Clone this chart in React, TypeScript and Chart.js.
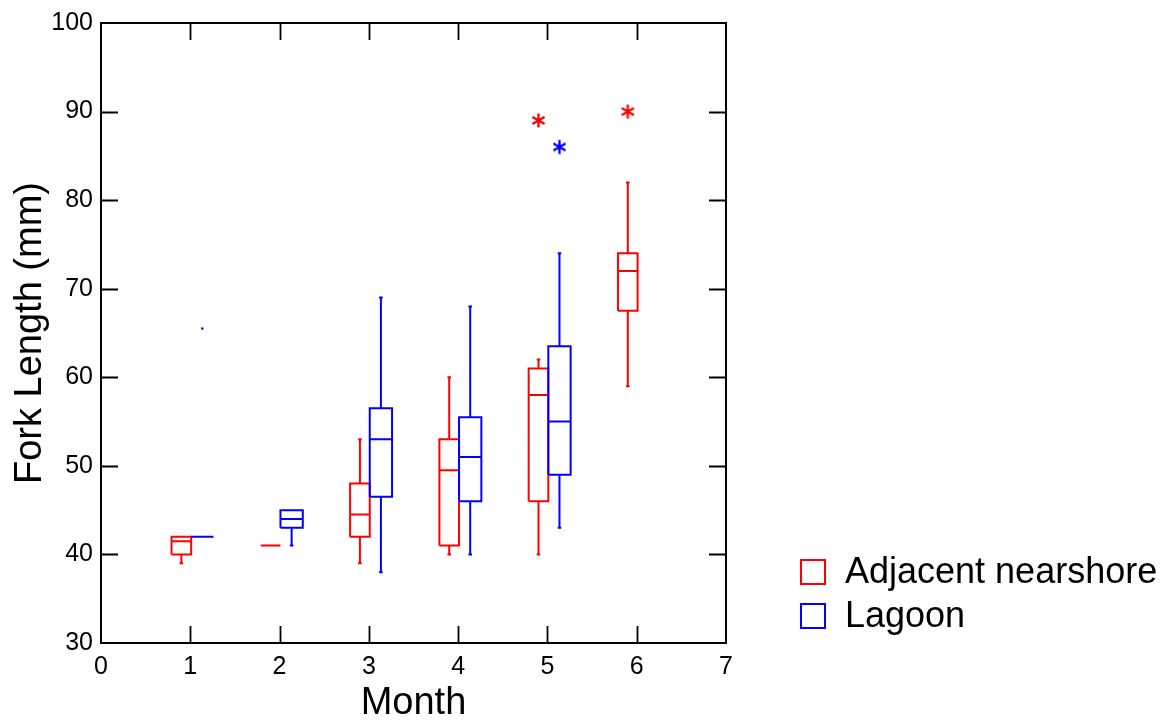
import React, { useEffect, useRef } from 'react';
import { Chart, registerables } from 'chart.js';

Chart.register(...registerables);

// ---------- data ----------
const months = [1, 2, 3, 4, 5, 6];
const xTickValues = [0, 1, 2, 3, 4, 5, 6, 7];
const yTickValues = [30, 40, 50, 60, 70, 80, 90, 100];

const seriesNames = ['Adjacent nearshore', 'Lagoon'];
const seriesColors = ['#ff0000', '#0000ff'];

// Adjacent nearshore five-number summaries per month
const nearshoreMin = [39, 41, 39, 40, 40, 59];
const nearshoreQ1 = [40, 41, 42, 41, 46, 67.5];
const nearshoreMedian = [41.5, 41, 44.5, 49.5, 58, 72];
const nearshoreQ3 = [42, 41, 48, 53, 61, 74];
const nearshoreMax = [42, 41, 53, 60, 62, 82];
const nearshoreStarMonth = [5, 6];
const nearshoreStarValue = [89, 90];

// Lagoon five-number summaries per month (no sample in month 6)
const lagoonMin = [42, 41, 38, 40, 43, null];
const lagoonQ1 = [42, 43, 46.5, 46, 49, null];
const lagoonMedian = [42, 44, 53, 51, 55, null];
const lagoonQ3 = [42, 45, 56.5, 55.5, 63.5, null];
const lagoonMax = [42, 45, 69, 68, 74, null];
const lagoonStarMonth = [5];
const lagoonStarValue = [86];
const lagoonDotMonth = [1];
const lagoonDotValue = [65.5];

// ---------- helpers ----------
type Pt = { x: number; y: number | null };

function boxSegments(
  mins: (number | null)[],
  q1s: (number | null)[],
  meds: (number | null)[],
  q3s: (number | null)[],
  maxs: (number | null)[],
  offset: number,
  halfWidth: number,
  capHalf: number
): Pt[] {
  const pts: Pt[] = [];
  const gap = (x: number) => pts.push({ x, y: null });
  months.forEach((m, i) => {
    const med = meds[i];
    if (med == null) return;
    const q1 = q1s[i] as number;
    const q3 = q3s[i] as number;
    const mn = mins[i] as number;
    const mx = maxs[i] as number;
    const c = m + offset;
    const l = c - halfWidth;
    const r = c + halfWidth;
    if (q3 > q1) {
      pts.push({ x: l, y: q1 }, { x: r, y: q1 }, { x: r, y: q3 }, { x: l, y: q3 }, { x: l, y: q1 });
      gap(l);
    }
    pts.push({ x: l, y: med }, { x: r, y: med });
    gap(r);
    if (mx > q3) {
      pts.push({ x: c, y: q3 }, { x: c, y: mx });
      gap(c);
      pts.push({ x: c - capHalf, y: mx }, { x: c + capHalf, y: mx });
      gap(c);
    }
    if (mn < q1) {
      pts.push({ x: c, y: q1 }, { x: c, y: mn });
      gap(c);
      pts.push({ x: c - capHalf, y: mn }, { x: c + capHalf, y: mn });
      gap(c);
    }
  });
  return pts;
}

function makeAsterisk(color: string, size = 17): HTMLCanvasElement {
  const c = document.createElement('canvas');
  c.width = size;
  c.height = size;
  const ctx = c.getContext('2d')!;
  ctx.strokeStyle = color;
  ctx.lineWidth = 2.3;
  const r = size / 2 - 1.5;
  const cx = size / 2;
  const cy = size / 2;
  ctx.beginPath();
  for (const a of [90, 30, 150]) {
    const rad = (a * Math.PI) / 180;
    ctx.moveTo(cx - r * Math.cos(rad), cy - r * Math.sin(rad));
    ctx.lineTo(cx + r * Math.cos(rad), cy + r * Math.sin(rad));
  }
  ctx.stroke();
  return c;
}

const FONT = '"Liberation Sans", Arial, Helvetica, sans-serif';

const framePlugin = {
  id: 'frameTicks',
  afterDatasetsDraw(chart: any) {
    const { ctx, chartArea } = chart;
    const { left, right, top, bottom } = chartArea;
    const xs = chart.scales.x;
    const ys = chart.scales.y;
    const len = 17;
    ctx.save();
    ctx.strokeStyle = '#000';
    ctx.lineWidth = 1.8;
    ctx.beginPath();
    xTickValues.forEach((v) => {
      if (v === xs.min || v === xs.max) return;
      const px = Math.round(xs.getPixelForValue(v)) + 0.5;
      ctx.moveTo(px, bottom);
      ctx.lineTo(px, bottom - len);
      ctx.moveTo(px, top);
      ctx.lineTo(px, top + len);
    });
    yTickValues.forEach((v) => {
      if (v === ys.min || v === ys.max) return;
      const py = Math.round(ys.getPixelForValue(v)) + 0.5;
      ctx.moveTo(left, py);
      ctx.lineTo(left + len, py);
      ctx.moveTo(right, py);
      ctx.lineTo(right - len, py);
    });
    ctx.stroke();
    ctx.lineWidth = 2;
    ctx.strokeRect(left, top, right - left, bottom - top);
    ctx.restore();
  },
};

const legendPlugin = {
  id: 'sideLegend',
  afterDraw(chart: any) {
    const { ctx } = chart;
    ctx.save();
    ctx.font = `36px ${FONT}`;
    ctx.textBaseline = 'middle';
    ctx.textAlign = 'left';
    seriesNames.forEach((name, i) => {
      const y0 = 560 + i * 44;
      ctx.strokeStyle = seriesColors[i];
      ctx.lineWidth = 2;
      ctx.strokeRect(801, y0, 24, 24);
      ctx.fillStyle = '#000';
      ctx.fillText(name, 845, y0 + 13);
    });
    ctx.restore();
  },
};

export default function App() {
  const ref = useRef<HTMLCanvasElement | null>(null);

  useEffect(() => {
    if (!ref.current) return;
    Chart.defaults.font.family = FONT;
    Chart.defaults.color = '#000';

    const redStar = makeAsterisk(seriesColors[0]);
    const blueStar = makeAsterisk(seriesColors[1]);

    const redOffset = -0.1;
    const redHalf = 0.11;
    const blueOffset = 0.135;
    const blueHalf = 0.125;
    const capHalf = 0.02;

    const lineDs = (label: string, data: Pt[], color: string, order: number) => ({
      label,
      data,
      showLine: true,
      spanGaps: false,
      borderColor: color,
      backgroundColor: color,
      borderWidth: 2,
      pointRadius: 0,
      pointHoverRadius: 0,
      tension: 0,
      fill: false,
      borderJoinStyle: 'miter' as const,
      order,
    });

    const chart = new Chart(ref.current, {
      type: 'scatter',
      data: {
        datasets: [
          lineDs(
            seriesNames[0],
            boxSegments(nearshoreMin, nearshoreQ1, nearshoreMedian, nearshoreQ3, nearshoreMax, redOffset, redHalf, capHalf),
            seriesColors[0],
            1
          ),
          lineDs(
            seriesNames[1],
            boxSegments(lagoonMin, lagoonQ1, lagoonMedian, lagoonQ3, lagoonMax, blueOffset, blueHalf, capHalf),
            seriesColors[1],
            0
          ),
          {
            label: seriesNames[0] + ' outliers',
            data: nearshoreStarMonth.map((m, i) => ({ x: m + redOffset, y: nearshoreStarValue[i] })),
            pointStyle: redStar,
            showLine: false,
            order: 1,
          } as any,
          {
            label: seriesNames[1] + ' outliers',
            data: lagoonStarMonth.map((m, i) => ({ x: m + blueOffset, y: lagoonStarValue[i] })),
            pointStyle: blueStar,
            showLine: false,
            order: 0,
          } as any,
          {
            label: seriesNames[1] + ' far',
            data: lagoonDotMonth.map((m, i) => ({ x: m + blueOffset, y: lagoonDotValue[i] })),
            pointStyle: 'rect',
            pointRadius: 1.6,
            borderWidth: 0,
            backgroundColor: seriesColors[1],
            borderColor: seriesColors[1],
            showLine: false,
            order: 0,
          } as any,
        ],
      },
      options: {
        responsive: false,
        animation: false,
        events: [],
        layout: { padding: { top: 18, right: 443, left: 0, bottom: 0 } },
        plugins: {
          legend: { display: false },
          tooltip: { enabled: false },
          title: { display: false },
        },
        scales: {
          x: {
            type: 'linear',
            min: 0,
            max: 7,
            afterBuildTicks: (s: any) => {
              s.ticks = xTickValues.map((v) => ({ value: v }));
            },
            afterFit: (s: any) => {
              s.height = 80;
            },
            grid: { display: false, drawTicks: false },
            border: { display: false },
            ticks: {
              font: { size: 25 },
              padding: 9,
              maxRotation: 0,
              autoSkip: false,
              color: '#000',
            },
            title: {
              display: true,
              text: 'Month',
              font: { size: 38, lineHeight: 1 },
              padding: { top: 0, bottom: 0 },
              color: '#000',
            },
          },
          y: {
            type: 'linear',
            min: 30,
            max: 100,
            afterBuildTicks: (s: any) => {
              s.ticks = yTickValues.map((v) => ({ value: v }));
            },
            afterFit: (s: any) => {
              s.width = 101;
            },
            grid: { display: false, drawTicks: false },
            border: { display: false },
            ticks: {
              font: { size: 25 },
              padding: 8,
              autoSkip: false,
              color: '#000',
            },
            title: {
              display: true,
              text: 'Fork Length (mm)',
              font: { size: 38, lineHeight: 1 },
              padding: { top: 12, bottom: 0 },
              color: '#000',
            },
          },
        },
      } as any,
      plugins: [framePlugin, legendPlugin],
    });

    return () => chart.destroy();
  }, []);

  return (
    <div style={{ position: 'fixed', left: 0, top: 0, width: 1169, height: 723, background: '#fff' }}>
      <canvas ref={ref} width={1169} height={723} style={{ display: 'block', width: 1169, height: 723 }} />
    </div>
  );
}
